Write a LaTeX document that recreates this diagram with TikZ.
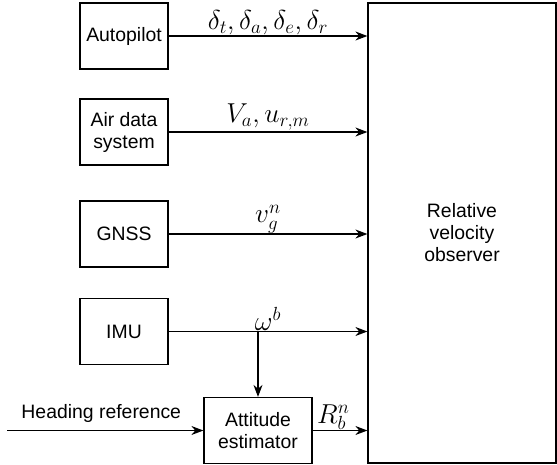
\documentclass[tikz,border=0pt]{standalone}
\usepackage{fontspec}
\setmainfont{Liberation Sans}
\usetikzlibrary{arrows.meta}

\newcommand{\sigtext}[1]{\scalebox{1.32}{$#1$}}

\tikzset{
  block/.style={draw, line width=1.2pt, minimum width=88pt, minimum height=66pt, align=center, inner sep=2pt},
  signal/.style={->, line width=1.2pt},
  sig/.style={above, inner sep=2pt}
}

\begin{document}
\begin{tikzpicture}[x=1pt, y=-1pt, >={Stealth[length=12pt, width=9pt]}, font=\fontsize{19.4}{22}\selectfont]
\useasboundingbox (0,0) rectangle (557,464);
% sensor blocks
\node[block] (autopilot) at (124,36) {Autopilot};
\node[block] (airdata) at (124,132) {Air data\\system};
\node[block] (gnss) at (124,234) {GNSS};
\node[block] (imu) at (124,331.5) {IMU};
\node[block, minimum width=108pt] (attitude) at (258,430.5) {Attitude\\estimator};
\node[block, minimum width=188pt, minimum height=460pt] (observer) at (462,233) {Relative\\velocity\\observer};
% signals to observer
\draw[signal] (autopilot) -- (autopilot -| observer.west) node[sig, midway, inner sep=1pt] {\sigtext{\delta_t, \delta_a, \delta_e, \delta_r}};
\draw[signal] (airdata) -- (airdata -| observer.west) node[sig, midway, inner sep=1pt] {\sigtext{V_a, u_{r,m}}};
\draw[signal] (gnss) -- (gnss -| observer.west) node[sig, midway, inner sep=0pt] {\sigtext{v_g^n}};
\draw[signal] (imu) -- (imu -| observer.west) node[sig, midway, inner sep=0pt] {\sigtext{\omega^b}};
\draw[signal] (attitude) -- (attitude -| observer.west) node[sig, pos=0.38, inner sep=0pt] {\sigtext{R_b^n}};
% attitude estimator inputs
\coordinate (branch) at (imu -| attitude.north);
\draw[signal] (branch) -- (attitude.north);
\coordinate (headin) at (7,430.5);
\draw[signal] (headin) -- (attitude.west) node[above, pos=0.48, inner sep=7pt] {Heading reference};
\end{tikzpicture}
\end{document}
